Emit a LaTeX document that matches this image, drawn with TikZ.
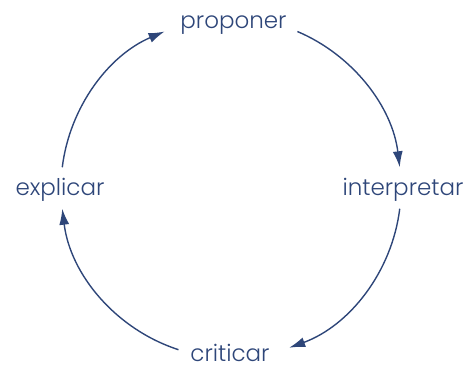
\documentclass[tikz,border=0pt]{standalone}
\usepackage{fontspec}
\setmainfont{Poppins}[UprightFont=* Light]
\usetikzlibrary{arrows.meta}
\definecolor{navy}{HTML}{2E4679}
\begin{document}
\begin{tikzpicture}[x=1pt,y=1pt,
  lbl/.style={text=navy,font=\fontsize{23}{27}\selectfont,inner sep=0pt,anchor=base},
  cyc/.style={draw=navy,line width=1.4pt,-{Latex[length=16pt,width=10pt]}}]
\useasboundingbox (0,0) rectangle (468,-367);
\coordinate (c) at (231,-188);
\node[lbl] (pro) at (233.5,-28) {proponer};
\node[lbl] (int) at (403,-195) {interpretar};
\node[lbl] (cri) at (230,-361.5) {criticar};
\node[lbl] (exp) at (60,-195) {explicar};
\draw[cyc] ([shift={(67:170)}]c) arc[start angle=67,end angle=7,radius=170];
\draw[cyc] ([shift={(-7:170)}]c) arc[start angle=-7,end angle=-70,radius=170];
\draw[cyc] ([shift={(252:170)}]c) arc[start angle=252,end angle=187,radius=170];
\draw[cyc] ([shift={(173:170)}]c) arc[start angle=173,end angle=113,radius=170];
\end{tikzpicture}
\end{document}
